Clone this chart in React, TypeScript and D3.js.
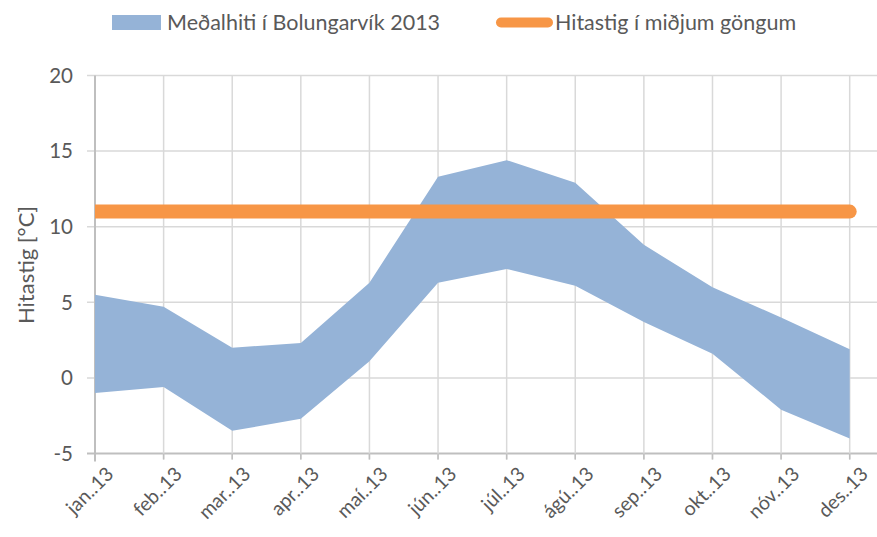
import React from "react";
import * as d3 from "d3";

// monthly categories and band values
const months = ["jan..13", "feb..13", "mar..13", "apr..13", "maí..13", "jún..13", "júl..13", "ágú..13", "sep..13", "okt..13", "nóv..13", "des..13"];
const upper = [5.5, 4.7, 2.0, 2.3, 6.3, 13.3, 14.4, 12.9, 8.8, 6.0, 4.0, 1.9];
const lower = [-1.0, -0.6, -3.5, -2.7, 1.1, 6.3, 7.2, 6.1, 3.7, 1.6, -2.1, -4.0];
const corridor = [11, 11, 11, 11, 11, 11, 11, 11, 11, 11, 11, 11];
const yTicks = [-5, 0, 5, 10, 15, 20];

const W = 877;
const H = 537;
const font = "Lato, 'Open Sans', sans-serif";

const App = () => {
  const left = 95;
  const right = 877;
  const top = 75.5;
  const bottom = 453.5;

  const x = d3.scalePoint<string>().domain(months).range([left, 849.7]);
  const y = d3.scaleLinear().domain([-5, 20]).range([bottom, top]);

  const band = d3
    .area<number>()
    .x((_, i) => x(months[i])!)
    .y0((_, i) => y(lower[i]))
    .y1((d) => y(d));

  const line = d3
    .line<number>()
    .x((_, i) => x(months[i])!)
    .y((d) => y(d));

  return (
    <svg width={W} height={H} style={{ position: "absolute", left: 0, top: 0, background: "#fff" }}>
      <defs>
        <clipPath id="plotclip">
          <rect x={left} y={0} width={right - left} height={H} />
        </clipPath>
      </defs>

      {/* horizontal gridlines */}
      {yTicks.map((t) => (
        <line key={t} x1={left - 8} x2={right} y1={y(t)} y2={y(t)} stroke={t === -5 ? "#bfbfbf" : "#d9d9d9"} strokeWidth={t === -5 ? 2 : 1.5} />
      ))}
      {/* vertical gridlines */}
      {months.map((m, i) => (
        <line key={m} x1={x(m)} x2={x(m)} y1={top} y2={bottom + (i === 0 ? 8 : 6)} stroke={i === 0 ? "#bfbfbf" : "#d9d9d9"} strokeWidth={i === 0 ? 2 : 1.5} />
      ))}
      {months.map((m) => (
        <line key={m + "t"} x1={x(m)} x2={x(m)} y1={bottom} y2={bottom + 6} stroke="#bfbfbf" strokeWidth={1.5} />
      ))}

      <path d={band(upper) || ""} fill="#95b3d7" />
      <path
        d={line(corridor) || ""}
        fill="none"
        stroke="#f79646"
        strokeWidth={14}
        strokeLinecap="round"
        clipPath="url(#plotclip)"
      />

      {/* y tick labels */}
      {yTicks.map((t) => (
        <text key={t} x={73} y={y(t)} dy="0.36em" textAnchor="end" fontFamily={font} fontSize={20.5} fill="#595959">
          {t}
        </text>
      ))}
      <text
        transform={`translate(34,265) rotate(-90)`}
        textAnchor="middle"
        fontFamily={font}
        fontSize={22}
        fill="#595959"
      >
        Hitastig [°C]
      </text>

      {/* x tick labels */}
      {months.map((m) => (
        <text
          key={m + "l"}
          transform={`translate(${x(m)! + 10},${bottom + 12}) rotate(-45)`}
          textAnchor="end"
          dy="0.7em"
          fontFamily={font}
          fontSize={19.5}
          fill="#595959"
        >
          {m}
        </text>
      ))}

      {/* legend */}
      <rect x={112} y={15} width={49} height={15} fill="#95b3d7" />
      <text x={167} y={22.5} dy="0.36em" fontFamily={font} fontSize={21.5} fill="#595959">
        Meðalhiti í Bolungarvík 2013
      </text>
      <line x1={501} x2={548} y1={22.5} y2={22.5} stroke="#f79646" strokeWidth={10} strokeLinecap="round" />
      <text x={555} y={22.5} dy="0.36em" fontFamily={font} fontSize={21.5} fill="#595959">
        Hitastig í miðjum göngum
      </text>
    </svg>
  );
};

export default App;
